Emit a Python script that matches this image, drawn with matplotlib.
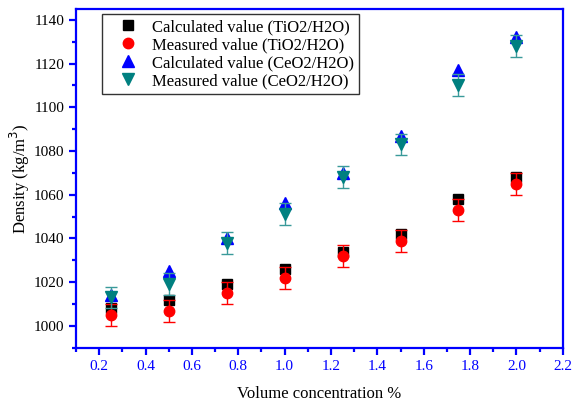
import matplotlib
matplotlib.use('Agg')
import matplotlib.pyplot as plt
from matplotlib.lines import Line2D
from matplotlib.ticker import MultipleLocator

# volume concentration (%)
conc = [0.25, 0.5, 0.75, 1.0, 1.25, 1.5, 1.75, 2.0]

# density values (kg/m3)
calc_tio2 = [1008, 1012, 1019, 1026, 1034, 1042, 1058, 1068]
meas_tio2 = [1005, 1007, 1015, 1022, 1032, 1039, 1053, 1065]
calc_ceo2 = [1014, 1025, 1040, 1056, 1070, 1087, 1117, 1132]
meas_ceo2 = [1013, 1019, 1038, 1051, 1068, 1083, 1110, 1128]
err_tio2 = [5, 5, 5, 5, 5, 5, 5, 5]
err_ceo2 = [5, 5, 5, 5, 5, 5, 5, 5]

labels = ['Calculated value (TiO2/H2O)', 'Measured value (TiO2/H2O)',
          'Calculated value (CeO2/H2O)', 'Measured value (CeO2/H2O)']

plt.rcParams['font.family'] = ['Liberation Serif', 'DejaVu Serif']

fig = plt.figure(figsize=(5.76, 4.03), dpi=100)
ax = fig.add_axes([0.132, 0.137, 0.845, 0.841])

teal = '#008080'

ax.plot(conc, calc_tio2, 's', ms=7, color='black', zorder=3)
ax.errorbar(conc, meas_tio2, yerr=err_tio2, fmt='o', ms=7.5, color='red',
            ecolor='red', elinewidth=1, capsize=4, zorder=4)
ax.plot(conc, calc_ceo2, '^', ms=8.5, color='blue', zorder=3)
ax.errorbar(conc, meas_ceo2, yerr=err_ceo2, fmt='v', ms=8.5, color=teal,
            ecolor='#3a9a9a', elinewidth=1, capsize=4, zorder=4)

ax.set_xlim(0.1, 2.2)
ax.set_ylim(990, 1145)
ax.set_xticks([0.2, 0.4, 0.6, 0.8, 1.0, 1.2, 1.4, 1.6, 1.8, 2.0, 2.2])
ax.xaxis.set_minor_locator(MultipleLocator(0.1))
ax.yaxis.set_major_locator(MultipleLocator(20))
ax.yaxis.set_minor_locator(MultipleLocator(10))

for sp in ax.spines.values():
    sp.set_color('blue')
    sp.set_linewidth(1.6)

ax.tick_params(axis='both', which='major', direction='out', length=5,
               width=1.6, color='blue', labelsize=11)
ax.tick_params(axis='both', which='minor', direction='out', length=3,
               width=1.6, color='blue')
ax.tick_params(axis='x', labelcolor='blue')
ax.tick_params(axis='y', labelcolor='black')

ax.set_xlabel('Volume concentration %', fontsize=12, labelpad=10)
ax.set_ylabel('Density (kg/m$^3$)', fontsize=12, labelpad=1)

# legend shows markers only
handles = [
    Line2D([], [], ls='none', marker='s', ms=7, color='black'),
    Line2D([], [], ls='none', marker='o', ms=7.5, color='red'),
    Line2D([], [], ls='none', marker='^', ms=8.5, color='blue'),
    Line2D([], [], ls='none', marker='v', ms=8.5, color=teal),
]
leg = ax.legend(handles, labels, loc='upper left', bbox_to_anchor=(0.053, 0.985),
                borderaxespad=0, fontsize=12, frameon=True, fancybox=False,
                handlelength=2.5, handletextpad=0.2, borderpad=0.3,
                labelspacing=0.12)
leg.get_frame().set_edgecolor('black')
leg.get_frame().set_linewidth(1)

fig.savefig('out.png', dpi=100)
